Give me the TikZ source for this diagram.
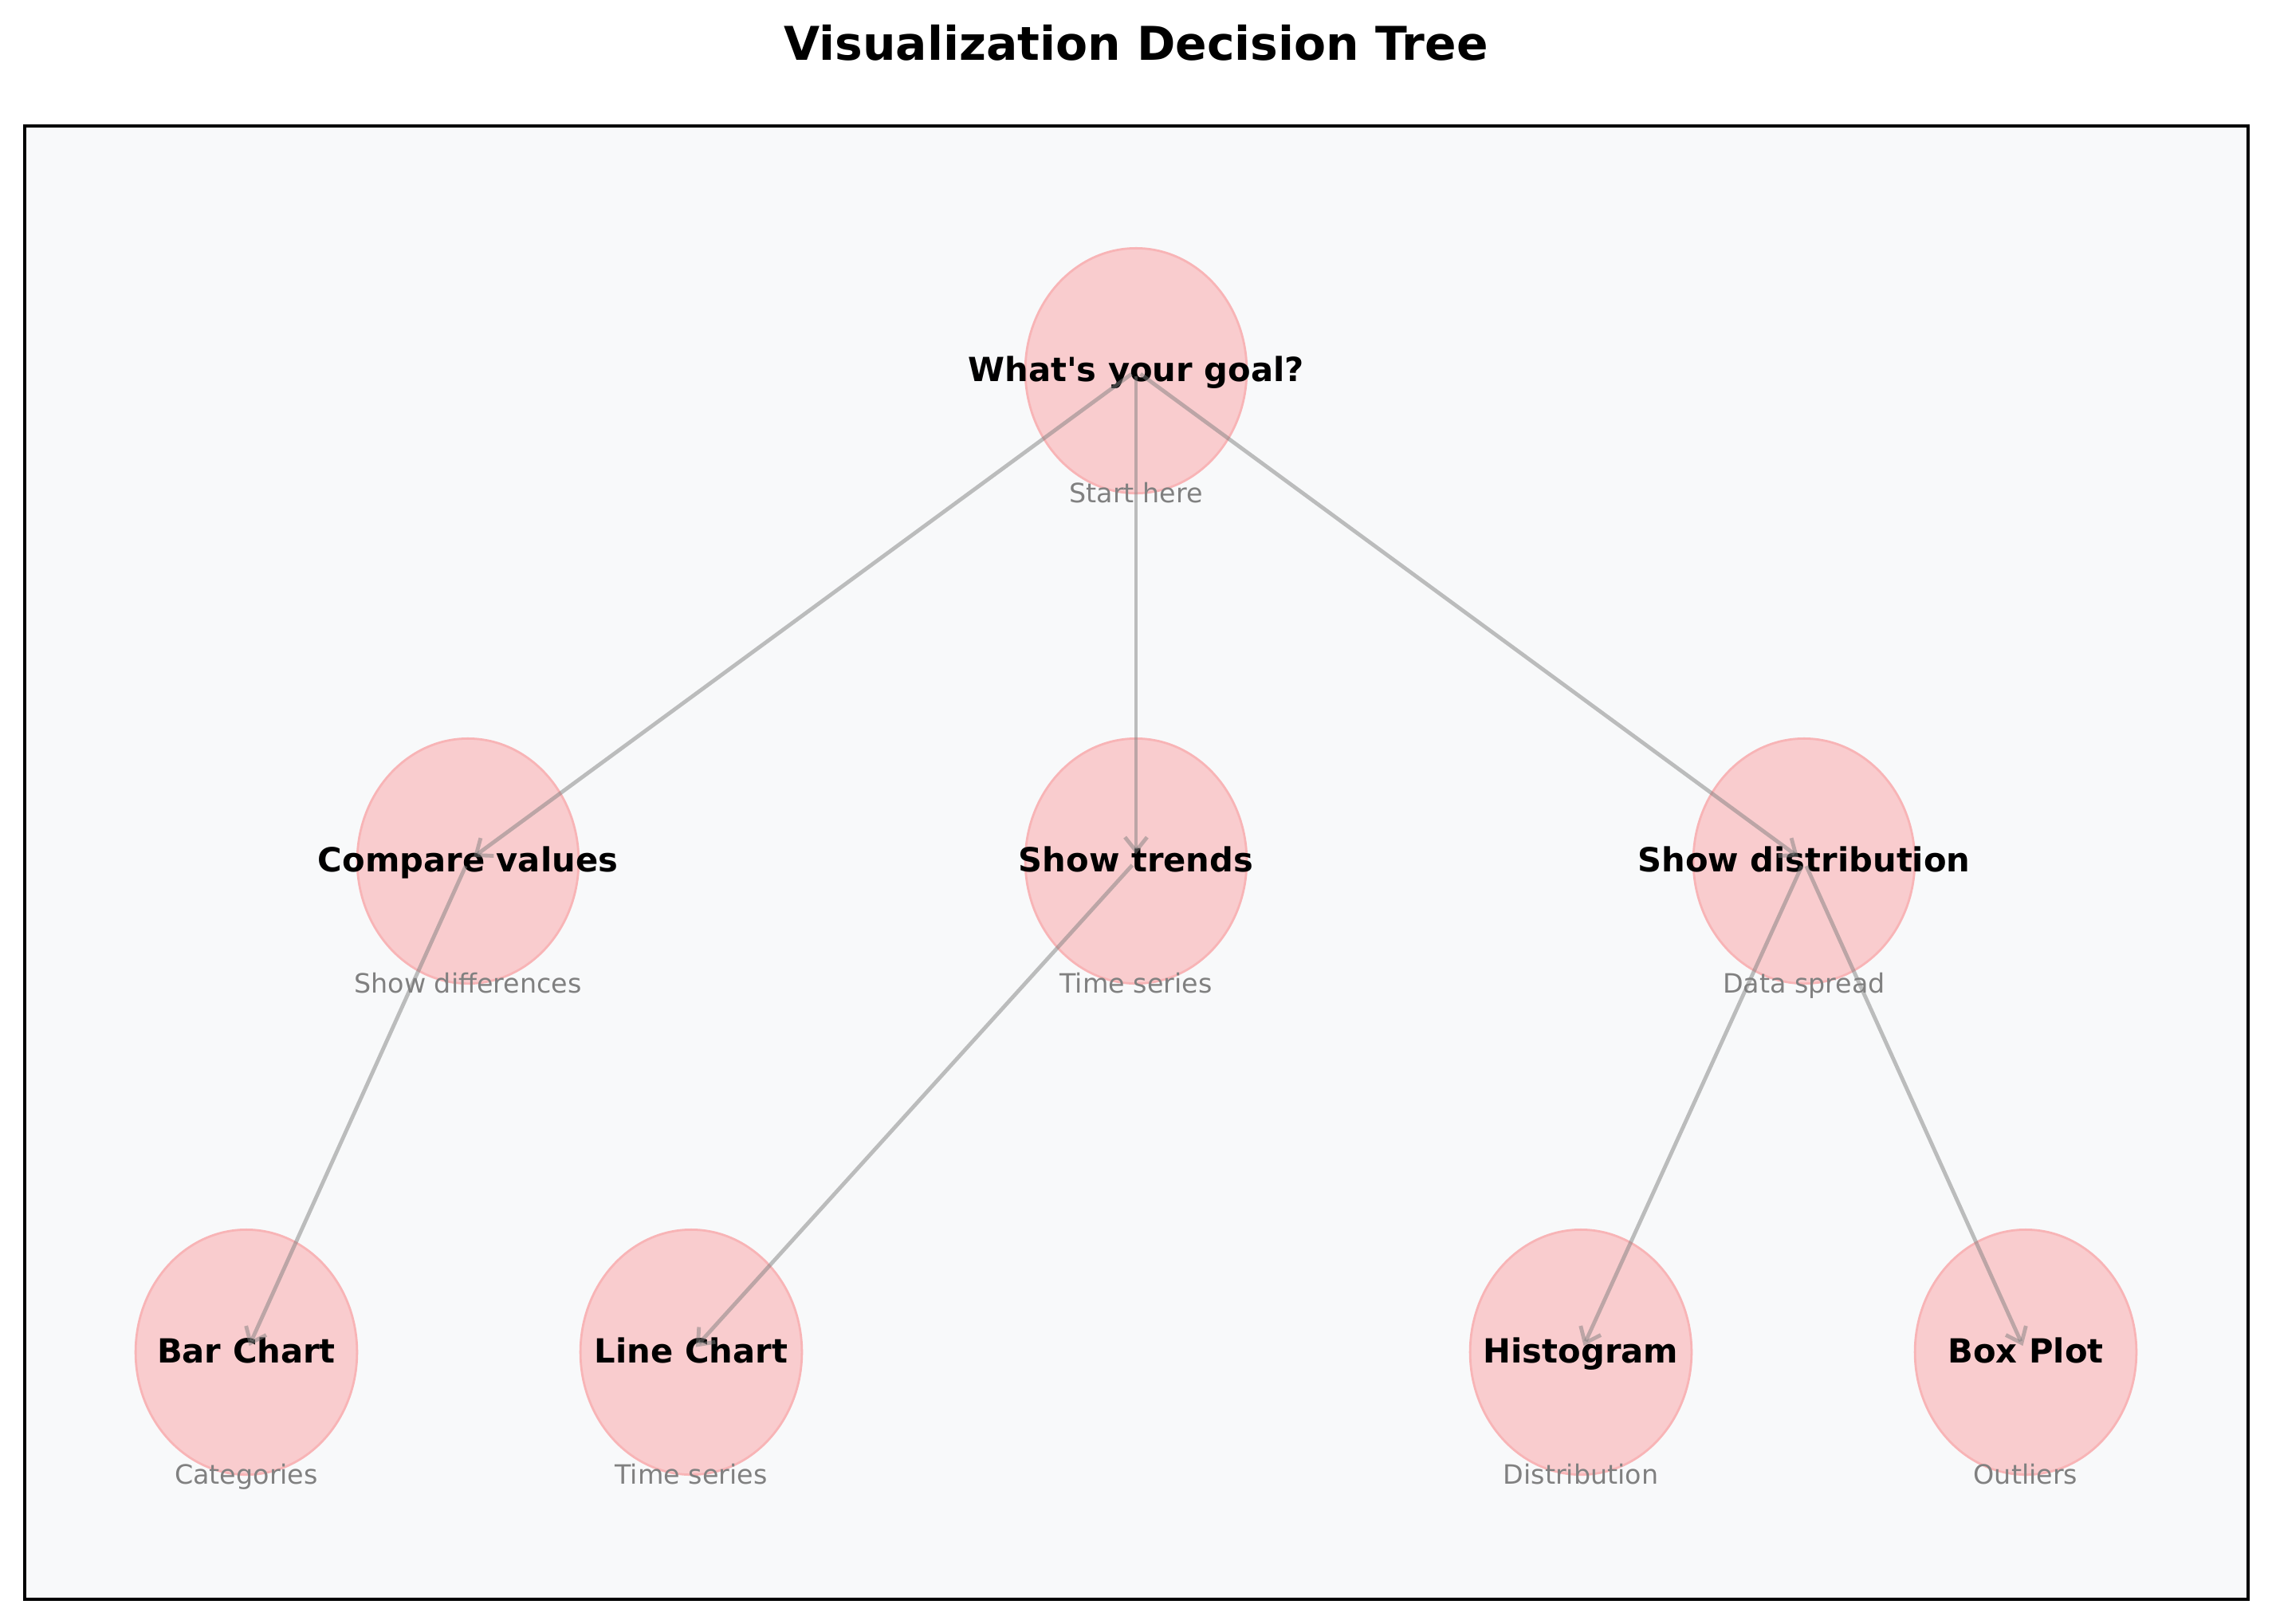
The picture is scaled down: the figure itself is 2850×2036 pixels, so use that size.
\documentclass[tikz,border=0pt]{standalone}
\usepackage{fontspec}
\setmainfont{DejaVu Sans}[Ligatures=TeXOff]
\usetikzlibrary{shapes.geometric,arrows.meta}
\definecolor{bgpanel}{HTML}{F8F9FA}
\definecolor{nodefill}{HTML}{F9CCCE}
\definecolor{nodeedge}{HTML}{F8B4B6}
\definecolor{arrowgray}{RGB}{128,128,128}
\tikzset{
  bubble/.style={ellipse, draw=nodeedge, fill=nodefill, line width=0.8pt,
    minimum width=80pt, minimum height=88.5pt, inner sep=0pt},
  mainlabel/.style={anchor=base, inner sep=0pt, font=\fontsize{12}{14}\selectfont\bfseries, text=black},
  sublabel/.style={anchor=base, inner sep=0pt, font=\fontsize{9.6}{11}\selectfont, text=arrowgray},
  link/.style={draw=arrowgray, draw opacity=0.5, line width=1.4pt,
    -{Straight Barb[length=5pt,width=8pt]}, shorten >=2.5pt, shorten <=2pt},
}
\begin{document}
\begin{tikzpicture}[x=0.288pt, y=-0.288pt]
\useasboundingbox (0,0) rectangle (2850,2036);
\fill[white] (0,0) rectangle (2850,2036);
\node[anchor=base, inner sep=0pt, font=\fontsize{16.8}{20}\selectfont\bfseries] (title) at (1425,75) {Visualization Decision Tree};
\draw[fill=bgpanel, draw=black, line width=0.9pt] (31,158) rectangle (2820,2006);
% ellipses
\node[bubble] (goal) at (1425,465) {};
\node[bubble] (cmp) at (587,1080) {};
\node[bubble] (trend) at (1425,1080) {};
\node[bubble] (dist) at (2263,1080) {};
\node[bubble] (bar) at (309,1696) {};
\node[bubble] (line) at (867,1696) {};
\node[bubble] (hist) at (1983,1696) {};
\node[bubble] (box) at (2541,1696) {};
% labels
\node[mainlabel] (goalT) at (1425,478) {What's your goal?};
\node[sublabel] (goalS) at (1425,630) {Start here};
\node[mainlabel] (cmpT) at (587,1093) {Compare values};
\node[sublabel] (cmpS) at (587,1245) {Show differences};
\node[mainlabel] (trendT) at (1425,1093) {Show trends};
\node[sublabel] (trendS) at (1425,1245) {Time series};
\node[mainlabel] (distT) at (2263,1093) {Show distribution};
\node[sublabel] (distS) at (2263,1245) {Data spread};
\node[mainlabel] (barT) at (309,1709) {Bar Chart};
\node[sublabel] (barS) at (309,1861) {Categories};
\node[mainlabel] (lineT) at (867,1709) {Line Chart};
\node[sublabel] (lineS) at (867,1861) {Time series};
\node[mainlabel] (histT) at (1983,1709) {Histogram};
\node[sublabel] (histS) at (1983,1861) {Distribution};
\node[mainlabel] (boxT) at (2541,1709) {Box Plot};
\node[sublabel] (boxS) at (2541,1861) {Outliers};
% connectors
\draw[link] (goal.center) -- (cmp.center);
\draw[link] (goal.center) -- (trend.center);
\draw[link] (goal.center) -- (dist.center);
\draw[link] (cmp.center) -- (bar.center);
\draw[link] (trend.center) -- (line.center);
\draw[link] (dist.center) -- (hist.center);
\draw[link] (dist.center) -- (box.center);
\end{tikzpicture}
\end{document}
